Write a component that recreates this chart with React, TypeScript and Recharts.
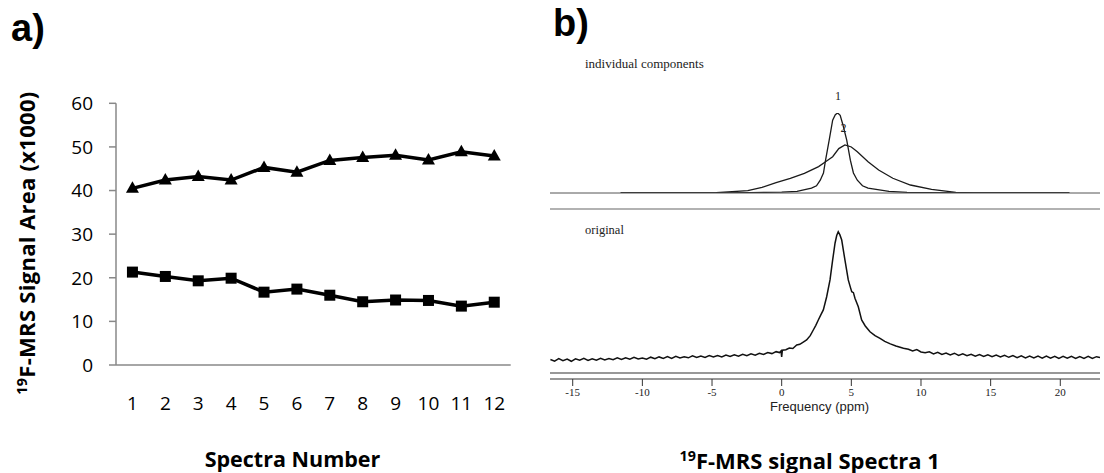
import React from 'react';
import { LineChart, Line, XAxis, YAxis } from 'recharts';

// ---------- Panel a data ----------
const spectraNumbers = [1, 2, 3, 4, 5, 6, 7, 8, 9, 10, 11, 12];
const triangleSeries = [40.5, 42.4, 43.2, 42.4, 45.3, 44.2, 46.9, 47.6, 48.1, 47.0, 48.9, 47.9];
const squareSeries = [21.3, 20.3, 19.3, 19.9, 16.7, 17.4, 16.0, 14.5, 14.9, 14.8, 13.5, 14.4];
const yTicksA = [0, 10, 20, 30, 40, 50, 60];

// ---------- Panel b data ----------
const freqTicks = [-15, -10, -5, 0, 5, 10, 15, 20];
const freqDomain = [-16.63, 22.85];

const comp1Ppm = [-11.56, -5, -2.2, 0, 1.1, 2.14, 2.5, 2.77, 3.0, 3.15, 3.41, 3.66, 3.85, 4.02, 4.2, 4.4, 4.67, 4.93, 5.15, 5.43, 5.8, 6.2, 7.7, 9.0, 10.3, 14, 20.65];
const comp1Intensity = [0, 0.2, 0.5, 1.2, 2, 6, 9, 16, 25, 41, 66, 91, 98, 100, 97, 85, 66, 41, 25, 16, 9, 6, 2, 0.8, 0.3, 0.1, 0];

const comp2Ppm = [-11.56, -4.7, -2.43, -1.41, -0.4, 0.62, 1.63, 2.65, 3.15, 3.66, 4.1, 4.54, 5.0, 5.43, 6.2, 6.96, 7.98, 9.24, 10.76, 12.5, 13.8, 20.65];
const comp2Intensity = [0, 0.3, 2.9, 7.1, 12.9, 18.4, 24.6, 33, 39, 45.4, 55.5, 60, 57.5, 51.6, 39, 28.7, 18.4, 10, 4.6, 0.9, 0.2, 0];

const originalPpm = [
  -16.6, -16.3, -16.0, -15.7, -15.4, -15.1, -14.8, -14.5, -14.2, -13.9, -13.6, -13.3, -13.0, -12.7, -12.4, -12.1,
  -11.8, -11.5, -11.2, -10.9, -10.6, -10.3, -10.0, -9.7, -9.4, -9.1, -8.8, -8.5, -8.2, -7.9, -7.6, -7.3,
  -7.0, -6.7, -6.4, -6.1, -5.8, -5.5, -5.2, -4.9, -4.6, -4.3, -4.0, -3.7, -3.4, -3.1, -2.8, -2.5,
  -2.2, -1.9, -1.6, -1.3, -1.0, -0.7, -0.4, -0.15, -0.05, 0.0, 0.05, 0.3, 0.55, 0.8, 1.08, 1.3,
  1.55, 1.79, 2.05, 2.27, 2.45, 2.63, 2.8, 2.99, 3.23, 3.47, 3.66, 3.83, 3.95, 4.06, 4.18, 4.31,
  4.54, 4.78, 4.95, 5.03, 5.15, 5.26, 5.5, 5.74, 6.0, 6.34, 6.7, 7.06, 7.4, 7.8, 8.2, 8.74,
  9.1, 9.4, 9.7, 10.0, 10.3, 10.6, 10.9, 11.2, 11.5, 11.8, 12.1, 12.4, 12.7, 13.0, 13.3, 13.6,
  13.9, 14.2, 14.5, 14.8, 15.1, 15.4, 15.7, 16.0, 16.3, 16.6, 16.9, 17.2, 17.5, 17.8, 18.1, 18.4,
  18.7, 19.0, 19.3, 19.6, 19.9, 20.2, 20.5, 20.8, 21.1, 21.4, 21.7, 22.0, 22.3, 22.6, 22.85,
];
const originalIntensity = [
  0.4, -0.9, 1.1, -0.5, 0.7, -1.0, 0.9, -0.2, 1.3, -0.4, 1.0, -0.1, 1.4, 0.1, 1.2, 0.2,
  1.7, 0.4, 1.8, 0.7, 2.1, 0.8, 1.6, 0.6, 2.2, 1.0, 2.4, 1.3, 2.6, 1.2, 2.8, 1.6,
  2.5, 1.7, 3.2, 1.9, 3.1, 2.0, 3.4, 2.3, 3.5, 2.4, 3.8, 2.7, 4.1, 2.9, 4.4, 3.3,
  4.8, 3.8, 5.3, 4.3, 5.8, 5.0, 6.5, 5.8, 7.0, 2.5, 7.6, 8.0, 9.3, 9.0, 11.7, 12.2,
  14.0, 15.6, 19.0, 23.4, 27.0, 31.2, 35.0, 39.0, 49.3, 62.4, 78, 91, 97, 100, 97.5, 93.5,
  78, 62.4, 56, 53.2, 52.5, 48.1, 41.5, 31.2, 26.5, 22, 19.0, 16.9, 14.5, 12.6, 10.9, 9.1,
  8.4, 7.0, 8.1, 6.3, 5.6, 6.4, 4.8, 6.0, 4.4, 5.5, 4.0, 5.3, 3.6, 4.8, 3.3, 4.5,
  3.0, 4.2, 2.7, 4.0, 2.5, 3.8, 2.3, 3.6, 2.1, 3.4, 1.8, 3.2, 1.7, 3.1, 1.6, 3.0,
  1.5, 3.1, 1.4, 2.9, 1.3, 2.8, 1.4, 2.9, 1.2, 2.7, 1.3, 2.8, 1.2, 2.6, 2.0,
];

// ---------- Built tables ----------
const panelAData = spectraNumbers.map((n, i) => ({ n, tri: triangleSeries[i], sq: squareSeries[i] }));
const bandEdges = [spectraNumbers[0] - 0.5, ...spectraNumbers.map((n) => n + 0.5)];
const comp1Data = comp1Ppm.map((p, i) => ({ ppm: p, v: comp1Intensity[i] }));
const comp2Data = comp2Ppm.map((p, i) => ({ ppm: p, v: comp2Intensity[i] }));
const originalData = originalPpm.map((p, i) => ({ ppm: p, v: originalIntensity[i] }));

const Triangle = (props: any) => {
  const { cx, cy, index } = props;
  if (cx == null || cy == null) return <g key={`t${index}`} />;
  return <path key={`t${index}`} d={`M${cx},${cy - 7}L${cx + 6.5},${cy + 4.5}L${cx - 6.5},${cy + 4.5}Z`} fill="#000" />;
};
const Square = (props: any) => {
  const { cx, cy, index } = props;
  if (cx == null || cy == null) return <g key={`s${index}`} />;
  return <rect key={`s${index}`} x={cx - 5.5} y={cy - 5.5} width={11} height={11} fill="#000" />;
};

const sans = "'Open Sans', 'Liberation Sans', sans-serif";
const serif = "'Liberation Serif', 'DejaVu Serif', serif";
const libSans = "'Liberation Sans', Arial, sans-serif";

const Txt = ({ cx, cy, left, children, size, bold, family, color, width = 400, lh }: any) => {
  const h = lh || Math.round(size * 1.3);
  const style: React.CSSProperties = {
    position: 'absolute',
    top: cy - h / 2,
    height: h,
    lineHeight: `${h}px`,
    fontSize: size,
    fontWeight: bold ? 700 : 400,
    fontFamily: family,
    color: color || '#000',
    whiteSpace: 'nowrap',
  };
  if (left != null) {
    style.left = left;
  } else {
    style.left = cx - width / 2;
    style.width = width;
    style.textAlign = 'center';
  }
  return <div style={style}>{children}</div>;
};

const supStyle: React.CSSProperties = { fontSize: '0.65em', verticalAlign: '0.55em', lineHeight: 0 };

export default function App() {
  const grey = { stroke: '#888', strokeWidth: 1.5 };
  return (
    <div style={{ position: 'absolute', left: 0, top: 0, width: 1104, height: 473, background: '#fff', overflow: 'hidden' }}>
      {/* Panel a */}
      <div style={{ position: 'absolute', left: 0, top: 0 }}>
        <LineChart width={550} height={473} data={panelAData} margin={{ top: 103.3, right: 39.3, bottom: 48, left: 0 }}>
          <XAxis xAxisId="edges" type="number" dataKey="n" domain={[0.5, 12.5]} ticks={bandEdges} interval={0}
            tick={false} tickSize={8} height={8} axisLine={grey} tickLine={grey} allowDataOverflow />
          <XAxis xAxisId="labels" type="number" dataKey="n" domain={[0.5, 12.5]} ticks={spectraNumbers} interval={0}
            axisLine={false} tickLine={false} tickSize={0} tickMargin={24} height={52}
            tick={{ fontSize: 19, fontFamily: sans, fill: '#000' }} allowDataOverflow />
          <YAxis type="number" domain={[0, 60]} ticks={yTicksA} interval={0} width={116} tickSize={7} tickMargin={16}
            axisLine={grey} tickLine={grey} tick={{ fontSize: 19, fontFamily: sans, fill: '#000' }} />
          <Line xAxisId="edges" dataKey="tri" stroke="#000" strokeWidth={3.5} dot={Triangle} activeDot={false} isAnimationActive={false} />
          <Line xAxisId="edges" dataKey="sq" stroke="#000" strokeWidth={3.5} dot={Square} activeDot={false} isAnimationActive={false} />
        </LineChart>
      </div>

      {/* Panel b top: individual components */}
      <div style={{ position: 'absolute', left: 550, top: 0 }}>
        <LineChart width={554} height={200} margin={{ top: 113, right: 4, bottom: 6, left: 0 }}>
          <XAxis type="number" dataKey="ppm" domain={freqDomain} tick={false} tickLine={false} height={1}
            axisLine={{ stroke: '#555', strokeWidth: 1 }} allowDataOverflow />
          <YAxis hide type="number" domain={[0, 100]} allowDataOverflow />
          <Line data={comp2Data} dataKey="v" stroke="#1a1a1a" strokeWidth={1.3} dot={false} activeDot={false} isAnimationActive={false} />
          <Line data={comp1Data} dataKey="v" stroke="#1a1a1a" strokeWidth={1.3} dot={false} activeDot={false} isAnimationActive={false} />
        </LineChart>
      </div>

      {/* Panel b bottom: original */}
      <div style={{ position: 'absolute', left: 550, top: 0 }}>
        <LineChart width={554} height={473} margin={{ top: 208, right: 4, bottom: 54, left: 0 }}>
          <XAxis xAxisId="sep" orientation="top" type="number" dataKey="ppm" domain={freqDomain} height={1}
            tick={false} tickLine={false} axisLine={{ stroke: '#666', strokeWidth: 1.2 }} allowDataOverflow />
          <XAxis xAxisId="inner" type="number" dataKey="ppm" domain={freqDomain} height={6}
            tick={false} tickLine={false} axisLine={{ stroke: '#333', strokeWidth: 1.2 }} allowDataOverflow />
          <XAxis xAxisId="scale" type="number" dataKey="ppm" domain={freqDomain} ticks={freqTicks} interval={0} height={40}
            tickSize={7} tickMargin={2} axisLine={{ stroke: '#333', strokeWidth: 1.2 }} tickLine={{ stroke: '#333' }}
            tick={{ fontSize: 11, fontFamily: serif, fill: '#222' }} allowDataOverflow />
          <YAxis hide type="number" domain={[-10.13, 117.7]} allowDataOverflow />
          <Line xAxisId="scale" data={originalData} dataKey="v" stroke="#111" strokeWidth={1.5} dot={false} activeDot={false} isAnimationActive={false} />
        </LineChart>
      </div>

      {/* Texts */}
      <Txt left={11} cy={28} size={38} lh={44} bold family={libSans}>a)</Txt>
      <Txt left={553} cy={22.5} size={38} lh={44} bold family={libSans}>b)</Txt>
      <div style={{
        position: 'absolute', left: 26 - 200, top: 243 - 15, width: 400, height: 30, lineHeight: '30px',
        textAlign: 'center', transform: 'rotate(-90deg)', fontFamily: sans, fontWeight: 700, fontSize: 22, letterSpacing: 0.3, whiteSpace: 'nowrap',
      }}>
        <sup style={supStyle}>19</sup>F-MRS Signal Area (x1000)
      </div>
      <Txt cx={292.5} cy={459} size={21.5} bold family={sans}>Spectra Number</Txt>
      <Txt cx={809.7} cy={460} size={22} bold family={sans}>
        <sup style={supStyle}>19</sup>F-MRS signal Spectra 1
      </Txt>
      <Txt left={585} cy={63} size={13} family={serif} color="#222">individual components</Txt>
      <Txt left={585} cy={230} size={12.5} family={serif} color="#222">original</Txt>
      <Txt cx={838} cy={96} size={12} family={serif} color="#222" width={20}>1</Txt>
      <Txt cx={843.5} cy={128} size={12} family={serif} color="#222" width={20}>2</Txt>
      <Txt cx={819.6} cy={406.7} size={13} family={libSans} color="#222">Frequency (ppm)</Txt>
    </div>
  );
}
